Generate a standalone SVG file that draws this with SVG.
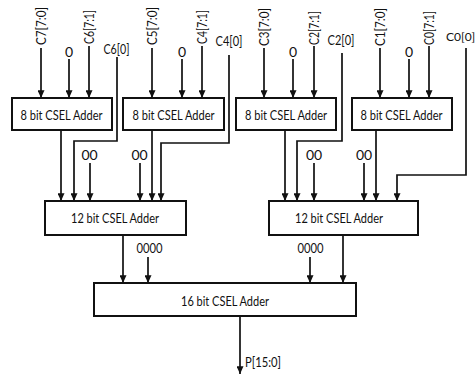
<svg xmlns="http://www.w3.org/2000/svg" width="476" height="376" viewBox="0 0 476 376">
<defs>
<marker id="ah" viewBox="0 0 9 8" markerWidth="9" markerHeight="7" refX="9" refY="4" orient="auto" markerUnits="userSpaceOnUse">
<path d="M0,0 L9,4 L0,8 z" fill="#111"/>
</marker>
<style>
text{font-family:Lato,"Open Sans","Liberation Sans",sans-serif;font-size:14px;fill:#111}
.c{text-anchor:middle}
.v{font-size:13px}
.box{fill:#fff;stroke:#111;stroke-width:2}
.w{fill:none;stroke:#111;stroke-width:1.7}
.a{marker-end:url(#ah)}
</style>
</defs>
<rect width="476" height="376" fill="#fff"/>

<g id="connectors">
<path class="w a" d="M41,48 V98"/>
<path class="w a" d="M69,59 V98"/>
<path class="w a" d="M89,46 V98"/>
<path class="w a" d="M152,48 V98"/>
<path class="w a" d="M182,59 V98"/>
<path class="w a" d="M202,46 V98"/>
<path class="w a" d="M264,48 V98"/>
<path class="w a" d="M293,59 V98"/>
<path class="w a" d="M314,46 V98"/>
<path class="w a" d="M380,48 V98"/>
<path class="w a" d="M409,59 V98"/>
<path class="w a" d="M429,46 V98"/>
<path class="w a" d="M117,57 V141 H74 V201"/>
<path class="w a" d="M229,55 V143 H161 V201"/>
<path class="w a" d="M342,53 V141 H297 V201"/>
<path class="w a" d="M466,48 V175 H397 V201"/>
<path class="w a" d="M61,130 V201"/>
<path class="w a" d="M152,130 V201"/>
<path class="w a" d="M285,130 V201"/>
<path class="w a" d="M376,130 V201"/>
<path class="w a" d="M90,163 V201"/>
<path class="w a" d="M140,163 V201"/>
<path class="w a" d="M314,163 V201"/>
<path class="w a" d="M364,163 V201"/>
<path class="w a" d="M123,235 V283"/>
<path class="w a" d="M343,235 V283"/>
<path class="w a" d="M148,257 V283"/>
<path class="w a" d="M310,257 V283"/>
<path class="w a" d="M240,316 V374"/>
</g>

<g id="labels">
<text class="c v" transform="translate(45.5,26) rotate(-90)" textLength="38" lengthAdjust="spacingAndGlyphs">C7[7:0]</text>
<text class="c" x="69" y="57">0</text>
<text class="c v" transform="translate(93.5,27) rotate(-90)" textLength="34" lengthAdjust="spacingAndGlyphs">C6[7:1]</text>
<text class="c" x="116.5" y="54" textLength="26" lengthAdjust="spacingAndGlyphs">C6[0]</text>

<text class="c v" transform="translate(156.5,26) rotate(-90)" textLength="38" lengthAdjust="spacingAndGlyphs">C5[7:0]</text>
<text class="c" x="182" y="57">0</text>
<text class="c v" transform="translate(206.5,27) rotate(-90)" textLength="34" lengthAdjust="spacingAndGlyphs">C4[7:1]</text>
<text class="c" x="229" y="46" textLength="27" lengthAdjust="spacingAndGlyphs">C4[0]</text>

<text class="c v" transform="translate(268.5,27) rotate(-90)" textLength="38" lengthAdjust="spacingAndGlyphs">C3[7:0]</text>
<text class="c" x="293" y="57">0</text>
<text class="c v" transform="translate(318.5,28) rotate(-90)" textLength="34" lengthAdjust="spacingAndGlyphs">C2[7:1]</text>
<text class="c" x="341" y="45" textLength="27" lengthAdjust="spacingAndGlyphs">C2[0]</text>

<text class="c v" transform="translate(384.5,27) rotate(-90)" textLength="38" lengthAdjust="spacingAndGlyphs">C1[7:0]</text>
<text class="c" x="409" y="57">0</text>
<text class="c v" transform="translate(433.5,28) rotate(-90)" textLength="34" lengthAdjust="spacingAndGlyphs">C0[7:1]</text>
<text x="446" y="41" style="font-size:12px">C0[0]</text>

<text class="c" x="89.5" y="160">00</text>
<text class="c" x="139.5" y="160">00</text>
<text class="c" x="314" y="160">00</text>
<text class="c" x="364" y="160">00</text>

<text class="c" x="149.5" y="253" textLength="26" lengthAdjust="spacingAndGlyphs">0000</text>
<text class="c" x="310.5" y="253" textLength="26" lengthAdjust="spacingAndGlyphs">0000</text>

<text x="245" y="367" textLength="36" lengthAdjust="spacingAndGlyphs">P[15:0]</text>
</g>

<g id="add8_1"><rect class="box" x="12" y="98" width="100" height="32"/><text class="c" x="61.5" y="120" textLength="82" lengthAdjust="spacingAndGlyphs">8 bit CSEL Adder</text></g>
<g id="add8_2"><rect class="box" x="123" y="98" width="101" height="32"/><text class="c" x="173.5" y="120" textLength="82" lengthAdjust="spacingAndGlyphs">8 bit CSEL Adder</text></g>
<g id="add8_3"><rect class="box" x="236" y="98" width="100" height="32"/><text class="c" x="286" y="120" textLength="82" lengthAdjust="spacingAndGlyphs">8 bit CSEL Adder</text></g>
<g id="add8_4"><rect class="box" x="352" y="98" width="100" height="32"/><text class="c" x="401.5" y="120" textLength="82" lengthAdjust="spacingAndGlyphs">8 bit CSEL Adder</text></g>

<g id="add12_1"><rect class="box" x="45" y="201" width="141" height="34"/><text class="c" x="115" y="223" textLength="88" lengthAdjust="spacingAndGlyphs">12 bit CSEL Adder</text></g>
<g id="add12_2"><rect class="box" x="269" y="201" width="149" height="34"/><text class="c" x="339" y="223" textLength="88" lengthAdjust="spacingAndGlyphs">12 bit CSEL Adder</text></g>

<g id="add16"><rect class="box" x="94" y="283" width="262" height="33"/><text class="c" x="225" y="306" textLength="88" lengthAdjust="spacingAndGlyphs">16 bit CSEL Adder</text></g>
</svg>
